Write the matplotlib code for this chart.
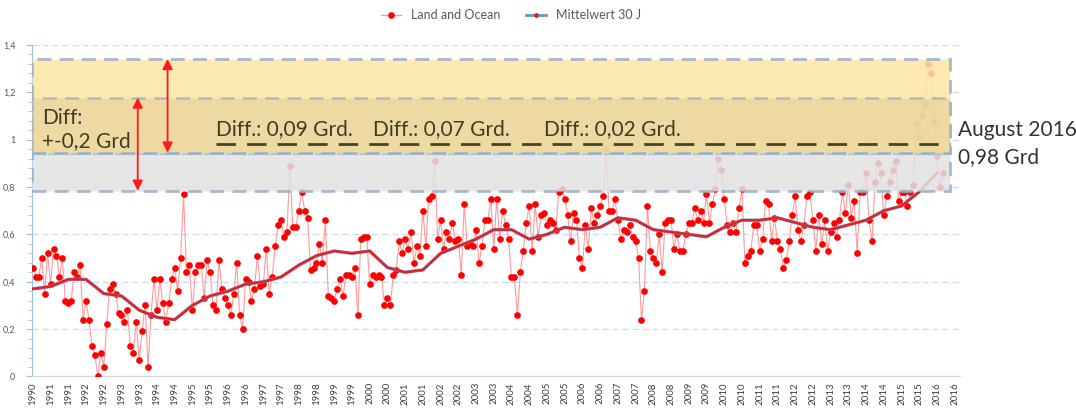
import numpy as np
import matplotlib.pyplot as plt
from matplotlib.lines import Line2D
from matplotlib.patches import Rectangle
from matplotlib.ticker import MultipleLocator, FuncFormatter

plt.rcParams['font.family'] = ['Lato', 'DejaVu Sans']

# Monthly anomaly (Land and Ocean)
anomaly = [
    0.46, 0.42, 0.42, 0.50, 0.35, 0.52, 0.39, 0.54, 0.51, 0.42,
    0.50, 0.32, 0.31, 0.32, 0.44, 0.42, 0.47, 0.24, 0.32, 0.24,
    0.13, 0.09, 0.00, 0.10, 0.04, 0.22, 0.37, 0.39, 0.35, 0.27,
    0.26, 0.23, 0.28, 0.13, 0.10, 0.23, 0.07, 0.19, 0.30, 0.04,
    0.26, 0.41, 0.28, 0.41, 0.31, 0.23, 0.31, 0.41, 0.46, 0.36,
    0.50, 0.77, 0.44, 0.47, 0.28, 0.44, 0.47, 0.47, 0.33, 0.49,
    0.44, 0.30, 0.28, 0.49, 0.37, 0.33, 0.30, 0.26, 0.35, 0.48,
    0.26, 0.20, 0.41, 0.40, 0.32, 0.37, 0.51,
    0.38, 0.39, 0.54, 0.35, 0.42, 0.55, 0.64, 0.66, 0.59, 0.61,
    0.89, 0.63, 0.63, 0.70, 0.78, 0.70, 0.67, 0.45, 0.46, 0.48,
    0.56, 0.48, 0.66, 0.34, 0.33, 0.32, 0.37, 0.41, 0.34, 0.43,
    0.43, 0.42, 0.46, 0.26, 0.58, 0.59, 0.59, 0.39, 0.43, 0.42,
    0.43, 0.42, 0.30, 0.33, 0.30, 0.43, 0.45, 0.57, 0.52, 0.58,
    0.54, 0.61, 0.48, 0.55, 0.51, 0.70, 0.55, 0.75, 0.76, 0.91,
    0.58, 0.66, 0.54, 0.61, 0.58, 0.65, 0.57, 0.58, 0.43, 0.73,
    0.55, 0.56, 0.55, 0.62, 0.48, 0.55, 0.66, 0.66,
    0.75, 0.54, 0.75, 0.58, 0.70, 0.64, 0.58, 0.42, 0.42, 0.26,
    0.44, 0.53, 0.65, 0.72, 0.53, 0.73, 0.59, 0.68, 0.69, 0.64,
    0.66, 0.65, 0.62, 0.78, 0.79, 0.75, 0.68, 0.57, 0.69, 0.66,
    0.50, 0.46, 0.64, 0.54, 0.71, 0.65, 0.68, 0.72, 0.76, 0.96,
    0.70, 0.70, 0.75, 0.66, 0.58, 0.62, 0.61, 0.64, 0.59, 0.57,
    0.50, 0.24, 0.36, 0.72, 0.53, 0.50, 0.48, 0.60, 0.44, 0.65,
    0.66, 0.66, 0.54, 0.60, 0.53, 0.53, 0.60, 0.65, 0.65, 0.71,
    0.66, 0.70, 0.65, 0.77, 0.65, 0.73, 0.79, 0.92,
    0.87, 0.75, 0.64, 0.61, 0.65, 0.61, 0.71, 0.79, 0.48, 0.51,
    0.53, 0.64, 0.64, 0.53, 0.58, 0.74, 0.73, 0.57, 0.67, 0.57,
    0.54, 0.46, 0.49, 0.57, 0.68, 0.76, 0.62, 0.57, 0.64, 0.76,
    0.78, 0.66, 0.53, 0.68, 0.56, 0.66, 0.53, 0.61, 0.65, 0.59,
    0.66, 0.78, 0.69, 0.81, 0.67, 0.74, 0.52, 0.78, 0.78, 0.86,
    0.66, 0.57, 0.82, 0.90, 0.86, 0.68, 0.76, 0.82, 0.87, 0.91,
    0.74, 0.78, 0.78, 0.72, 0.78, 0.81, 1.07, 1.01, 1.10, 1.15,
    1.32, 1.28, 1.08, 0.93, 0.80, 0.86,
]

# "Mittelwert 30 J", read every 6th point
mean_30 = [
    0.37, 0.38, 0.41, 0.41, 0.35, 0.34, 0.28, 0.25, 0.24, 0.30,
    0.34, 0.36, 0.39, 0.40, 0.42, 0.47, 0.51, 0.53, 0.52, 0.53,
    0.46, 0.44, 0.45, 0.52, 0.55, 0.58, 0.62, 0.62, 0.58, 0.60,
    0.63, 0.62, 0.63, 0.67, 0.66, 0.62, 0.61, 0.60, 0.59, 0.63,
    0.66, 0.66, 0.67, 0.65, 0.63, 0.62, 0.64, 0.66, 0.70, 0.72,
    0.78, 0.86,
]
mean_step = 6

tick_labels = [str(1990 + (k + 1) // 2) for k in range(53)]

# Bands / annotation levels
band_gray = (0.784, 0.945)
band_tan = (0.945, 1.178)
band_yellow = (0.945, 1.341)
aug_2016 = 0.983

x = np.arange(len(anomaly))
xm = np.arange(len(mean_30)) * mean_step
x_end = 310.3

fig = plt.figure(figsize=(10.76, 4.16), dpi=100)
ax = fig.add_axes([0.0297, 0.095, 0.8625, 0.797])

ax.plot(x, anomaly, color='#ff9a9a', lw=0.8, marker='o', ms=3.8,
        mfc='#ff0000', mec='#ff0000', zorder=3)
ax.plot(xm, mean_30, color='#5b9bd5', lw=2.4, zorder=4)
ax.plot(xm, mean_30, color='#f01c1c', lw=1.7, zorder=4)

# shaded bands drawn over the data, like in the original
x0 = -0.3
box_kw = dict(edgecolor='#97afc8', lw=2, linestyle=(0, (5, 3)), zorder=5)
ax.add_patch(Rectangle((x0, band_gray[0]), x_end - x0, band_gray[1] - band_gray[0],
                       facecolor='#e2e2e2', alpha=0.85, **box_kw))
ax.add_patch(Rectangle((x0, band_yellow[0]), x_end - x0, band_yellow[1] - band_yellow[0],
                       facecolor='#fde7a6', alpha=0.85, **box_kw))
ax.add_patch(Rectangle((x0, band_tan[0]), x_end - x0, band_tan[1] - band_tan[0],
                       facecolor='#e9d39c', alpha=0.7, **box_kw))

ax.hlines(aug_2016, 62, x_end, color='#4a4222', lw=2, linestyle=(0, (7, 4)), zorder=6)

arrow_kw = dict(arrowstyle='<|-|>', color='#ff1a1a', lw=1.3, mutation_scale=15,
                shrinkA=0, shrinkB=0)
ax.annotate('', xy=(35.5, band_gray[0]), xytext=(35.5, band_tan[1]),
            arrowprops=arrow_kw, zorder=7)
ax.annotate('', xy=(45.6, band_yellow[0]), xytext=(45.6, band_yellow[1]),
            arrowprops=arrow_kw, zorder=7)

txt_color = '#3f3b26'
fs = 15
ax.text(3.2, 1.09, 'Diff:', fontsize=fs, color=txt_color, va='center', zorder=8)
ax.text(3.2, 0.995, '+-0,2 Grd', fontsize=fs, color=txt_color, va='center', zorder=8)
ax.text(62, 1.045, 'Diff.: 0,09 Grd.', fontsize=fs, color=txt_color, va='center', zorder=8)
ax.text(115, 1.045, 'Diff.: 0,07 Grd.', fontsize=fs, color=txt_color, va='center', zorder=8)
ax.text(173, 1.045, 'Diff.: 0,02 Grd.', fontsize=fs, color=txt_color, va='center', zorder=8)
ax.text(313, 1.04, 'August 2016', fontsize=fs, color='#333333', va='center', clip_on=False)
ax.text(313, 0.925, '0,98 Grd', fontsize=fs, color='#333333', va='center', clip_on=False)

# axes
ax.set_xlim(x0, 313.8)
ax.set_ylim(0, 1.4)
ax.set_xticks(np.arange(len(tick_labels)) * 6)
ax.set_xticklabels(tick_labels, rotation=90, fontsize=7, color='#404040')
ax.tick_params(axis='x', length=0, pad=4)
ax.yaxis.set_major_locator(MultipleLocator(0.2))
ax.yaxis.set_minor_locator(MultipleLocator(0.04))
ax.yaxis.set_major_formatter(FuncFormatter(lambda v, _: f'{v:g}'.replace('.', ',')))
ax.tick_params(axis='y', which='major', labelsize=6.5, labelcolor='#595959',
               color='#9dc3e6', length=4, pad=8)
ax.tick_params(axis='y', which='minor', color='#9dc3e6', length=3)
ax.yaxis.grid(True, color='#c9daf0', linestyle=(0, (5, 3)), lw=0.9)
ax.set_axisbelow(True)
for s in ['top', 'right']:
    ax.spines[s].set_visible(False)
ax.spines['left'].set_color('#9dc3e6')
ax.spines['bottom'].set_color('#c9daf0')

handles = [
    Line2D([], [], color='#ff9a9a', lw=1, marker='o', ms=3.8, mfc='red', mec='red'),
    Line2D([], [], color='#5b9bd5', lw=2, marker='o', ms=2.5, mfc='#f01c1c', mec='#f01c1c'),
]
fig.legend(handles, ['Land and Ocean', 'Mittelwert 30 J'], loc='upper center',
           bbox_to_anchor=(0.475, 1.005), ncol=2, frameon=False, fontsize=9,
           labelcolor='#595959', handlelength=1.6, columnspacing=2.0)

fig.savefig('out.png', dpi=100)
